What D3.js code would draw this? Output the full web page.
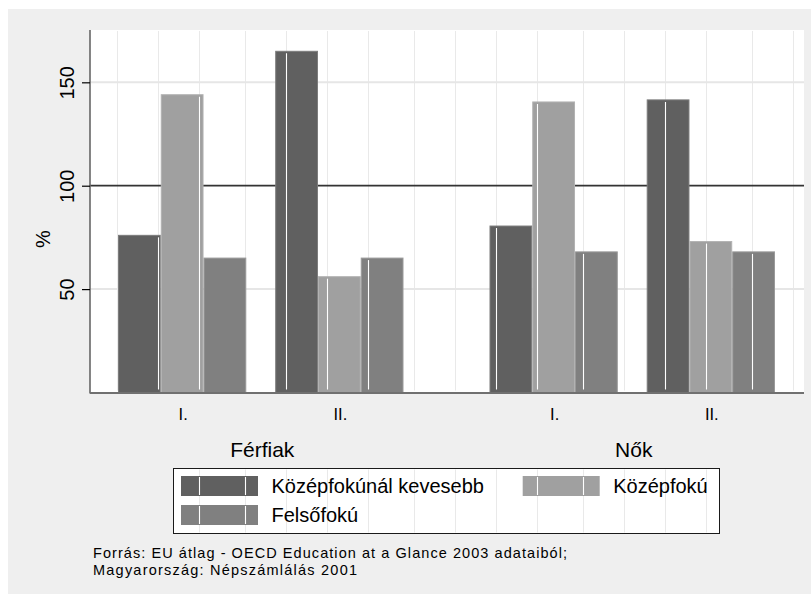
<!DOCTYPE html>
<html>
<head>
<meta charset="utf-8">
<script src="https://cdn.jsdelivr.net/npm/d3@7"></script>
<style>
  html, body { margin: 0; padding: 0; background: #fff; }
  svg { display: block; font-family: "Liberation Sans", Arial, sans-serif; }
</style>
</head>
<body>
<svg id="chart" width="811" height="595"></svg>
<script>
// data
const groups = ["Férfiak", "Nők"];
const periods = ["I.", "II."];
const seriesNames = ["Középfokúnál kevesebb", "Középfokú", "Felsőfokú"];
// values in order: Férfiak I., Férfiak II., Nők I., Nők II.
const belowSecondary = [76, 165, 80.5, 141.5];
const secondary = [144, 56, 140.5, 73];
const tertiary = [65, 65, 68, 68];
const yTicks = [50, 100, 150];
const refValue = 100;
const sourceLines = [
  "Forrás: EU átlag - OECD Education at a Glance 2003 adataiból;",
  "Magyarország: Népszámlálás 2001"
];

const fills = ["#606060", "#a0a0a0", "#808080"];
const outlines = ["#7c7c7c", "#b2b2b2", "#9a9a9a"];

const seriesValues = [belowSecondary, secondary, tertiary];
const rows = [];
groups.forEach((g, gi) => {
  periods.forEach((p, pi) => {
    seriesNames.forEach((s, si) => {
      rows.push({ group: g, period: p, series: s, si, value: seriesValues[si][gi * 2 + pi] });
    });
  });
});

const svg = d3.select("#chart");
const plot = { left: 90, right: 804, top: 30, bottom: 392.5 };

// background
svg.append("rect").attr("x", 8).attr("y", 9).attr("width", 803).attr("height", 585).attr("fill", "#efefef");
svg.append("rect").attr("x", plot.left).attr("y", plot.top)
  .attr("width", plot.right - plot.left).attr("height", plot.bottom - plot.top).attr("fill", "#fff");

const x0 = d3.scaleBand().domain(groups).range([plot.left, 803]).paddingInner(0.2315).paddingOuter(0.0754);
const x1 = d3.scaleBand().domain(periods).range([0, x0.bandwidth()]).paddingInner(0.184);
const x2 = d3.scaleBand().domain(seriesNames).range([0, x1.bandwidth()]);
const y = d3.scaleLinear().domain([0, 175.3]).range([plot.bottom, plot.top]);

// faint vertical texture lines of the scanned original
const stripes = d3.range(17).map(k => 117.5 + k * 41 + 5 * Math.floor((k + 1) / 4));

svg.append("g").selectAll("line").data(stripes).join("line")
  .attr("x1", d => d).attr("x2", d => d)
  .attr("y1", plot.top + 1).attr("y2", plot.bottom - 2)
  .attr("stroke", "#e9e9e9").attr("stroke-width", 1);

// grid
svg.append("g").selectAll("line").data(yTicks.filter(t => t !== refValue)).join("line")
  .attr("x1", plot.left).attr("x2", plot.right)
  .attr("y1", d => y(d)).attr("y2", d => y(d))
  .attr("stroke", "#e6e6e6").attr("stroke-width", 2);

svg.append("line")
  .attr("x1", plot.left).attr("x2", plot.right)
  .attr("y1", y(refValue)).attr("y2", y(refValue))
  .attr("stroke", "#333").attr("stroke-width", 1.8);

// bars
const barX = d => x0(d.group) + x1(d.period) + x2(d.series);
const bars = svg.append("g");
bars.selectAll("rect").data(rows).join("rect")
  .attr("x", d => barX(d) + 0.5)
  .attr("y", d => y(d.value))
  .attr("width", x2.bandwidth() - 1)
  .attr("height", d => plot.bottom - y(d.value))
  .attr("fill", d => fills[d.si])
  .attr("stroke", d => outlines[d.si])
  .attr("stroke-width", 1);

const barStripes = [];
rows.forEach(d => {
  const a = barX(d), b = a + x2.bandwidth();
  stripes.filter(s => s > a + 2 && s < b - 2).forEach(s => barStripes.push({ x: s, top: y(d.value) + 2 }));
});
bars.selectAll("line").data(barStripes).join("line")
  .attr("x1", d => d.x).attr("x2", d => d.x)
  .attr("y1", d => d.top).attr("y2", plot.bottom - 3)
  .attr("stroke", "#fff").attr("stroke-width", 1.1);

// axes
const yAxis = d3.axisLeft(y).tickValues(yTicks).tickSize(8).tickPadding(0).tickFormat(d3.format("d"));
const gy = svg.append("g").attr("transform", `translate(${plot.left},0)`).call(yAxis);
gy.select(".domain").attr("d", `M0,${plot.top}V${plot.bottom + 1}`).attr("stroke", "#666").attr("stroke-width", 1.6);
gy.selectAll(".tick line").attr("stroke", "#000").attr("stroke-width", 1.2);
gy.selectAll(".tick text")
  .attr("transform", "rotate(-90)")
  .attr("x", 0).attr("y", -16)
  .attr("dy", 0)
  .attr("text-anchor", "middle")
  .attr("fill", "#000")
  .style("font-size", "20px");

svg.append("line")
  .attr("x1", plot.left).attr("x2", plot.right)
  .attr("y1", plot.bottom + 0.5).attr("y2", plot.bottom + 0.5)
  .attr("stroke", "#707070").attr("stroke-width", 2);

svg.append("text")
  .attr("transform", `translate(50,239) rotate(-90)`)
  .attr("text-anchor", "middle").attr("font-size", 20).text("%");

// category labels
const periodLabels = [];
groups.forEach(g => periods.forEach(p => periodLabels.push({ g, p })));
svg.append("g").selectAll("text").data(periodLabels).join("text")
  .attr("x", d => x0(d.g) + x1(d.p) + x1.bandwidth() / 2 + 1)
  .attr("y", 420)
  .attr("text-anchor", "middle").attr("font-size", 16.5)
  .text(d => d.p);

svg.append("g").selectAll("text").data(groups).join("text")
  .attr("x", d => x0(d) + x0.bandwidth() / 2 + 1.5)
  .attr("y", 456.5)
  .attr("text-anchor", "middle").attr("font-size", 21)
  .text(d => d);

// legend
const legend = svg.append("g");
legend.append("rect").attr("x", 173.5).attr("y", 468.5).attr("width", 546).attr("height", 65)
  .attr("fill", "#fff").attr("stroke", "#1a1a1a").attr("stroke-width", 1);
legend.selectAll("line.tex").data(stripes.filter(s => s > 175 && s < 718)).join("line")
  .attr("class", "tex")
  .attr("x1", d => d).attr("x2", d => d).attr("y1", 469.5).attr("y2", 532.5)
  .attr("stroke", "#e9e9e9");

const legendPos = [
  { x: 181, y: 476 },
  { x: 522.7, y: 476 },
  { x: 181, y: 505 }
];
seriesNames.forEach((s, i) => {
  const p = legendPos[i];
  legend.append("rect").attr("x", p.x).attr("y", p.y).attr("width", 77).attr("height", 20)
    .attr("fill", fills[i]);
  stripes.filter(v => v > p.x + 2 && v < p.x + 75).forEach(v => {
    legend.append("line").attr("x1", v).attr("x2", v).attr("y1", p.y + 1).attr("y2", p.y + 19)
      .attr("stroke", "#fff").attr("stroke-width", 1.1);
  });
  legend.append("text").attr("x", p.x + 90.5).attr("y", p.y + 17.3)
    .attr("font-size", 20).text(s);
});

// source note
svg.append("g").selectAll("text").data(sourceLines).join("text")
  .attr("x", 93)
  .attr("y", (d, i) => 558 + i * 16.5)
  .attr("font-size", 14.5)
  .attr("textLength", (d, i) => [474, 264][i])
  .attr("lengthAdjust", "spacing")
  .text(d => d);
</script>
</body>
</html>
